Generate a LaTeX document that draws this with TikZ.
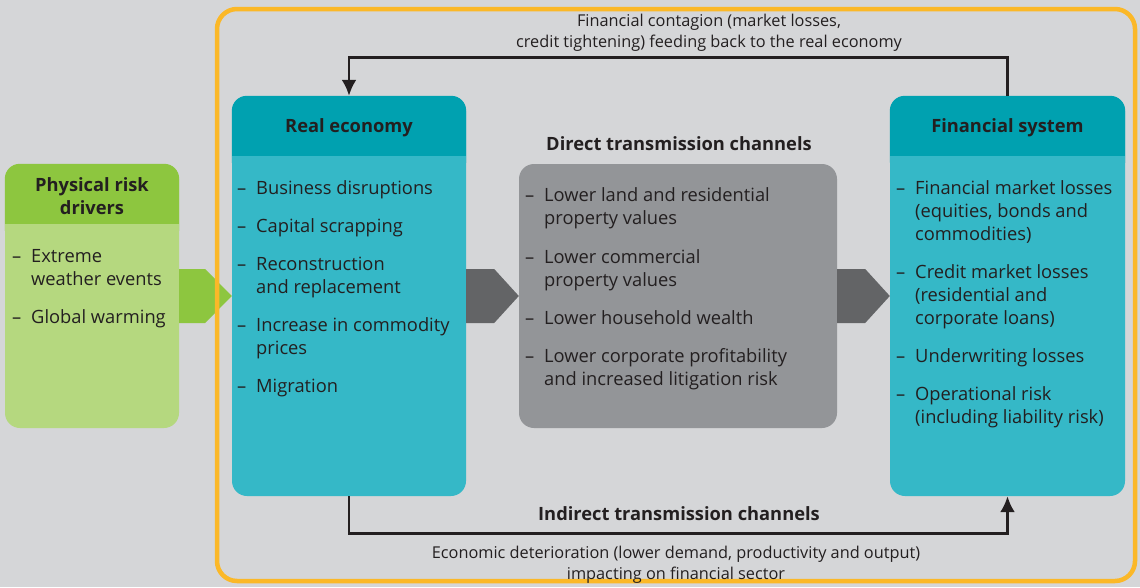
\documentclass[tikz,border=0pt]{standalone}
\usepackage{fontspec}
\setmainfont{Open Sans}
\usetikzlibrary{calc,arrows.meta}
\definecolor{bg}{RGB}{213,214,216}
\definecolor{frameor}{RGB}{251,184,40}
\definecolor{tealhead}{RGB}{0,161,176}
\definecolor{tealbody}{RGB}{53,184,199}
\definecolor{greenhead}{RGB}{141,198,63}
\definecolor{greenbody}{RGB}{181,216,127}
\definecolor{graybox}{RGB}{147,149,152}
\definecolor{grayarrow}{RGB}{99,100,102}
\definecolor{txt}{RGB}{35,31,32}
\newcommand{\bodyf}{\fontsize{18.3}{23}\selectfont}
\newcommand{\titf}{\fontsize{18.3}{23}\selectfont\bfseries}
\newcommand{\smallf}{\fontsize{16.3}{21.5}\selectfont}
\newcommand{\dsh}{\makebox[19pt][l]{–}}
\newcommand{\ind}{\hspace*{19pt}}
\begin{document}
\begin{tikzpicture}[x=1pt,y=-1pt,
  box/.style={rectangle, rounded corners=15pt, inner sep=0pt, draw=none},
  title/.style={font=\titf, text=txt, align=center, inner sep=0pt},
  itemtext/.style={font=\bodyf, text=txt, align=left, inner sep=0pt, anchor=north west},
  lab/.style={font=\smallf, text=txt, align=center, inner sep=0pt},
  conn/.style={line width=2.8pt, draw=txt, -{Latex[length=16pt,width=15pt]}},
  frame/.style={draw=frameor, line width=4.5pt, rounded corners=20pt}]
\fill[bg] (0,0) rectangle (1140,587);
\useasboundingbox (0,0) rectangle (1140,587);

% boxes
\node[box, fill=greenbody, minimum width=174pt, minimum height=264pt] (phys) at (92,296) {};
\node[box, fill=tealbody, minimum width=234pt, minimum height=400pt] (real) at (349,296) {};
\node[box, fill=graybox, minimum width=318pt, minimum height=264pt] (gray) at (678,296) {};
\node[box, fill=tealbody, minimum width=235pt, minimum height=400pt] (fin) at (1007.5,296) {};

% headers
\fill[greenhead, rounded corners=15pt] (phys.north west) rectangle ($(phys.north east)+(0,80)$);
\fill[greenbody] ($(phys.north west)+(0,60)$) rectangle ($(phys.north east)+(0,82)$);
\fill[tealhead, rounded corners=15pt] (real.north west) rectangle ($(real.north east)+(0,80)$);
\fill[tealbody] ($(real.north west)+(0,60)$) rectangle ($(real.north east)+(0,82)$);
\fill[tealhead, rounded corners=15pt] (fin.north west) rectangle ($(fin.north east)+(0,80)$);
\fill[tealbody] ($(fin.north west)+(0,60)$) rectangle ($(fin.north east)+(0,82)$);

% block arrows
\fill[greenhead] ($(phys.east)+(0,-27)$) -- ++(26,0) -- (real.west) -- ($(phys.east)+(26,27)$) -- ($(phys.east)+(0,27)$) -- cycle;
\fill[grayarrow] ($(real.east)+(0,-27)$) -- ++(28,0) -- (gray.west) -- ($(real.east)+(28,27)$) -- ($(real.east)+(0,27)$) -- cycle;
\fill[grayarrow] ($(gray.east)+(0,-27)$) -- ++(28,0) -- (fin.west) -- ($(gray.east)+(28,27)$) -- ($(gray.east)+(0,27)$) -- cycle;

% frame
\draw[frame] (217,9) rectangle (1135,581);

% titles
\node[title] (physT) at ($(phys.north)+(0,32)$) {Physical risk\\drivers};
\node[title] (realT) at ($(real.north)+(0,32)$) {Real economy};
\node[title] (finT) at ($(fin.north)+(0,32)$) {Financial system};
\node[title] (directT) at (679,144) {Direct transmission channels};
\node[title] (indirectT) at (679,514) {Indirect transmission channels};

% items
\node[itemtext] (physL) at (12,246) {\strut\dsh Extreme\\\ind weather events\\[15pt]\dsh Global warming};
\node[itemtext] (realL) at (237,178) {\strut\dsh Business disruptions\\[15pt]\dsh Capital scrapping\\[15pt]\dsh Reconstruction\\\ind and replacement\\[15pt]\dsh Increase in commodity\\\ind prices\\[15pt]\dsh Migration};
\node[itemtext] (grayL) at (525,185) {\strut\dsh Lower land and residential\\\ind property values\\[16pt]\dsh Lower commercial\\\ind property values\\[15pt]\dsh Lower household wealth\\[15pt]\dsh Lower corporate profitability\\\ind and increased litigation risk};
\node[itemtext] (finL) at (896,178) {\strut\dsh Financial market losses\\\ind (equities, bonds and\\\ind commodities)\\[15pt]\dsh Credit market losses\\\ind (residential and\\\ind corporate loans)\\[15pt]\dsh Underwriting losses\\[15pt]\dsh Operational risk\\\ind (including liability risk)};

% connectors
\draw[conn] (fin.north) -- ++(0,-38) -| (real.north);
\draw[conn] (real.south) -- ++(0,37) -| (fin.south);

% connector labels
\node[lab] (topL) at (709,33) {Financial contagion (market losses,\\credit tightening) feeding back to the real economy};
\node[lab] (botL) at (676,565) {Economic deterioration (lower demand, productivity and output)\\impacting on financial sector};
\end{tikzpicture}
\end{document}
